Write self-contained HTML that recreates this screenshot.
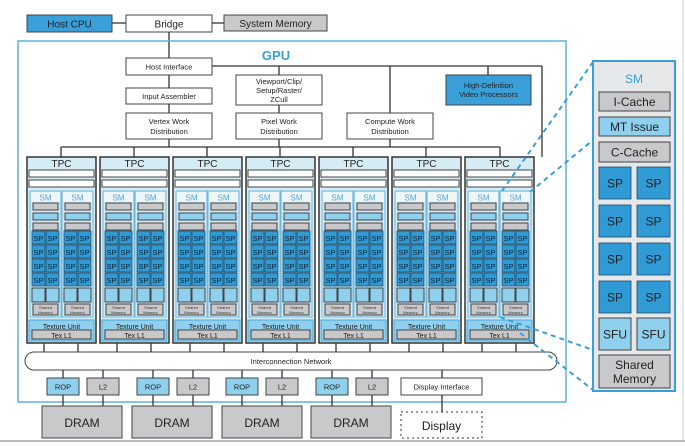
<!DOCTYPE html>
<html><head><meta charset="utf-8"><style>
html,body{margin:0;padding:0;background:#fff;}
svg{display:block;font-family:"Liberation Sans",Arial,sans-serif;}
.b{stroke:#333;stroke-width:1;}
.w{fill:#fff;stroke:#444;stroke-width:1;}
.g{fill:#c9c9cb;stroke:#444;stroke-width:1;}
.lb{fill:#8fd0ee;stroke:#444;stroke-width:1;}
.db{fill:#3a9fd8;stroke:#444;stroke-width:1;}
.sp{fill:#2f9ad4;stroke:#1d4a68;stroke-width:0.8;}
.ln{stroke:#333;stroke-width:1.3;fill:none;}
.t{text-anchor:middle;fill:#222;}
</style></head><body>
<svg width="685" height="446" viewBox="0 0 685 446">
<defs>
<g id="sm">
<rect x="0" y="0" width="31" height="126" fill="#cfe9f5" stroke="#6bbbe0"/>
<rect x="1" y="1" width="29" height="10" fill="#eef6fa"/>
<text x="15.5" y="9.5" font-size="8" fill="#4aa6d6" text-anchor="middle">SM</text>
<rect x="3" y="12" width="25" height="7" class="g"/>
<rect x="3" y="22" width="25" height="7" class="lb"/>
<rect x="3" y="32" width="25" height="7" class="g"/>
<rect x="2" y="40" width="13" height="13" class="sp"/><rect x="16" y="40" width="13" height="13" class="sp"/>
<rect x="2" y="54" width="13" height="13" class="sp"/><rect x="16" y="54" width="13" height="13" class="sp"/>
<rect x="2" y="68" width="13" height="13" class="sp"/><rect x="16" y="68" width="13" height="13" class="sp"/>
<rect x="2" y="82" width="13" height="13" class="sp"/><rect x="16" y="82" width="13" height="13" class="sp"/>
<rect x="2" y="97" width="13" height="14" class="lb"/><rect x="16" y="97" width="13" height="14" class="lb"/>
<rect x="3" y="113" width="25" height="11" class="g"/>
</g>
</defs>

<!-- frame -->
<line x1="683" y1="0" x2="683" y2="441" stroke="#ccc"/>
<line x1="0" y1="441" x2="685" y2="441" stroke="#bbb" stroke-width="2"/>

<!-- top -->
<line x1="112" y1="23" x2="126" y2="23" class="ln"/>
<line x1="212" y1="23" x2="224" y2="23" class="ln"/>
<rect x="27" y="15" width="85" height="17" class="db"/>
<text x="69.5" y="27.5" font-size="10" class="t">Host CPU</text>
<rect x="126" y="15" width="86" height="17" class="w"/>
<text x="169" y="27.5" font-size="10" class="t">Bridge</text>
<rect x="224" y="15" width="103" height="16" class="g"/>
<text x="275.5" y="27" font-size="10" class="t">System Memory</text>
<line x1="169" y1="32" x2="169" y2="58" class="ln"/>

<!-- GPU -->
<rect x="18" y="41" width="548" height="361" fill="none" stroke="#5fb3dc" stroke-width="1.5"/>
<text x="276" y="60" font-size="13" font-weight="bold" fill="#3a9fd8" text-anchor="middle">GPU</text>

<line x1="212" y1="66" x2="542" y2="66" class="ln"/>
<line x1="542" y1="66" x2="542" y2="157" class="ln"/>
<line x1="279" y1="66" x2="279" y2="75" class="ln"/>
<line x1="390" y1="66" x2="390" y2="113" class="ln"/>
<line x1="488" y1="66" x2="488" y2="75" class="ln"/>
<line x1="169" y1="75" x2="169" y2="88" class="ln"/>
<line x1="169" y1="104" x2="169" y2="113" class="ln"/>
<line x1="279" y1="105" x2="279" y2="113" class="ln"/>
<line x1="169" y1="139" x2="169" y2="147" class="ln"/>
<line x1="279" y1="139" x2="279" y2="147" class="ln"/>
<line x1="390" y1="139" x2="390" y2="147" class="ln"/>
<line x1="61" y1="147" x2="500" y2="147" class="ln"/>
<line x1="61" y1="147" x2="61" y2="157" class="ln"/>
<line x1="134" y1="147" x2="134" y2="157" class="ln"/>
<line x1="207" y1="147" x2="207" y2="157" class="ln"/>
<line x1="280" y1="147" x2="280" y2="157" class="ln"/>
<line x1="353" y1="147" x2="353" y2="157" class="ln"/>
<line x1="426" y1="147" x2="426" y2="157" class="ln"/>
<line x1="500" y1="147" x2="500" y2="157" class="ln"/>

<rect x="126" y="58" width="86" height="17" class="w"/>
<text x="169" y="69.5" font-size="7.5" class="t">Host Interface</text>
<rect x="126" y="88" width="86" height="16" class="w"/>
<text x="169" y="99" font-size="7.5" class="t">Input Assembler</text>
<rect x="126" y="113" width="86" height="26" class="w"/>
<text x="169" y="124" font-size="7.5" class="t">Vertex Work</text>
<text x="169" y="134" font-size="7.5" class="t">Distribution</text>
<rect x="236" y="75" width="86" height="30" class="w"/>
<text x="279" y="84" font-size="7.5" class="t">Viewport/Clip/</text>
<text x="279" y="93" font-size="7.5" class="t">Setup/Raster/</text>
<text x="279" y="102" font-size="7.5" class="t">ZCull</text>
<rect x="236" y="113" width="86" height="26" class="w"/>
<text x="279" y="124" font-size="7.5" class="t">Pixel Work</text>
<text x="279" y="134" font-size="7.5" class="t">Distribution</text>
<rect x="347" y="113" width="86" height="26" class="w"/>
<text x="390" y="124" font-size="7.5" class="t">Compute Work</text>
<text x="390" y="134" font-size="7.5" class="t">Distribution</text>
<rect x="446" y="75" width="85" height="30" class="db"/>
<text x="488.5" y="88" font-size="7.5" class="t">High-Definition</text>
<text x="488.5" y="97" font-size="7.5" class="t">Video Processors</text>

<!-- TPCs -->
<g id="tpcs">
<g transform="translate(27,157)">
<rect x="0" y="0" width="69" height="186" fill="#d6ecf5" stroke="#333" stroke-width="1.5"/>
<text x="34.5" y="10" font-size="10" class="t">TPC</text>
<rect x="2" y="13" width="65" height="7" class="w"/><rect x="2" y="23" width="65" height="7" class="w"/>
<use href="#sm" x="3" y="34"/><use href="#sm" x="35" y="34"/>
<rect x="2" y="163" width="65" height="21" fill="#8fd0ee" stroke="#4aa6d6"/>
<rect x="5" y="173" width="59" height="9" class="g"/>
<line x1="17" y1="186" x2="17" y2="195" class="ln"/><line x1="51" y1="186" x2="51" y2="195" class="ln"/>
</g>
</g>
<g transform="translate(73,0)"><g transform="translate(27,157)">
<rect x="0" y="0" width="69" height="186" fill="#d6ecf5" stroke="#333" stroke-width="1.5"/>
<text x="34.5" y="10" font-size="10" class="t">TPC</text>
<rect x="2" y="13" width="65" height="7" class="w"/><rect x="2" y="23" width="65" height="7" class="w"/>
<use href="#sm" x="3" y="34"/><use href="#sm" x="35" y="34"/>
<rect x="2" y="163" width="65" height="21" fill="#8fd0ee" stroke="#4aa6d6"/>
<rect x="5" y="173" width="59" height="9" class="g"/>
<line x1="17" y1="186" x2="17" y2="195" class="ln"/><line x1="51" y1="186" x2="51" y2="195" class="ln"/>
</g></g>
<g transform="translate(146,0)"><g transform="translate(27,157)">
<rect x="0" y="0" width="69" height="186" fill="#d6ecf5" stroke="#333" stroke-width="1.5"/>
<text x="34.5" y="10" font-size="10" class="t">TPC</text>
<rect x="2" y="13" width="65" height="7" class="w"/><rect x="2" y="23" width="65" height="7" class="w"/>
<use href="#sm" x="3" y="34"/><use href="#sm" x="35" y="34"/>
<rect x="2" y="163" width="65" height="21" fill="#8fd0ee" stroke="#4aa6d6"/>
<rect x="5" y="173" width="59" height="9" class="g"/>
<line x1="17" y1="186" x2="17" y2="195" class="ln"/><line x1="51" y1="186" x2="51" y2="195" class="ln"/>
</g></g>
<g transform="translate(219,0)"><g transform="translate(27,157)">
<rect x="0" y="0" width="69" height="186" fill="#d6ecf5" stroke="#333" stroke-width="1.5"/>
<text x="34.5" y="10" font-size="10" class="t">TPC</text>
<rect x="2" y="13" width="65" height="7" class="w"/><rect x="2" y="23" width="65" height="7" class="w"/>
<use href="#sm" x="3" y="34"/><use href="#sm" x="35" y="34"/>
<rect x="2" y="163" width="65" height="21" fill="#8fd0ee" stroke="#4aa6d6"/>
<rect x="5" y="173" width="59" height="9" class="g"/>
<line x1="17" y1="186" x2="17" y2="195" class="ln"/><line x1="51" y1="186" x2="51" y2="195" class="ln"/>
</g></g>
<g transform="translate(292,0)"><g transform="translate(27,157)">
<rect x="0" y="0" width="69" height="186" fill="#d6ecf5" stroke="#333" stroke-width="1.5"/>
<text x="34.5" y="10" font-size="10" class="t">TPC</text>
<rect x="2" y="13" width="65" height="7" class="w"/><rect x="2" y="23" width="65" height="7" class="w"/>
<use href="#sm" x="3" y="34"/><use href="#sm" x="35" y="34"/>
<rect x="2" y="163" width="65" height="21" fill="#8fd0ee" stroke="#4aa6d6"/>
<rect x="5" y="173" width="59" height="9" class="g"/>
<line x1="17" y1="186" x2="17" y2="195" class="ln"/><line x1="51" y1="186" x2="51" y2="195" class="ln"/>
</g></g>
<g transform="translate(365,0)"><g transform="translate(27,157)">
<rect x="0" y="0" width="69" height="186" fill="#d6ecf5" stroke="#333" stroke-width="1.5"/>
<text x="34.5" y="10" font-size="10" class="t">TPC</text>
<rect x="2" y="13" width="65" height="7" class="w"/><rect x="2" y="23" width="65" height="7" class="w"/>
<use href="#sm" x="3" y="34"/><use href="#sm" x="35" y="34"/>
<rect x="2" y="163" width="65" height="21" fill="#8fd0ee" stroke="#4aa6d6"/>
<rect x="5" y="173" width="59" height="9" class="g"/>
<line x1="17" y1="186" x2="17" y2="195" class="ln"/><line x1="51" y1="186" x2="51" y2="195" class="ln"/>
</g></g>
<g transform="translate(438,0)"><g transform="translate(27,157)">
<rect x="0" y="0" width="69" height="186" fill="#d6ecf5" stroke="#333" stroke-width="1.5"/>
<text x="34.5" y="10" font-size="10" class="t">TPC</text>
<rect x="2" y="13" width="65" height="7" class="w"/><rect x="2" y="23" width="65" height="7" class="w"/>
<use href="#sm" x="3" y="34"/><use href="#sm" x="35" y="34"/>
<rect x="2" y="163" width="65" height="21" fill="#8fd0ee" stroke="#4aa6d6"/>
<rect x="5" y="173" width="59" height="9" class="g"/>
<line x1="17" y1="186" x2="17" y2="195" class="ln"/><line x1="51" y1="186" x2="51" y2="195" class="ln"/>
</g></g>

<!-- TPC texts (SP, shared memory, texture unit) -->
<g font-size="7" class="t" text-anchor="middle" fill="#1a2a3a">
<text x="61.5" y="329">Texture Unit</text><text x="61.5" y="338">Tex L1</text>
<text x="134.5" y="329">Texture Unit</text><text x="134.5" y="338">Tex L1</text>
<text x="207.5" y="329">Texture Unit</text><text x="207.5" y="338">Tex L1</text>
<text x="280.5" y="329">Texture Unit</text><text x="280.5" y="338">Tex L1</text>
<text x="353.5" y="329">Texture Unit</text><text x="353.5" y="338">Tex L1</text>
<text x="426.5" y="329">Texture Unit</text><text x="426.5" y="338">Tex L1</text>
<text x="499.5" y="329">Texture Unit</text><text x="499.5" y="338">Tex L1</text>
</g>
<g font-size="7.5" text-anchor="middle" fill="#0d2233">
<!-- TPC1 -->
<text x="38.5" y="241">SP</text><text x="52.5" y="241">SP</text><text x="70.5" y="241">SP</text><text x="84.5" y="241">SP</text>
<text x="38.5" y="255">SP</text><text x="52.5" y="255">SP</text><text x="70.5" y="255">SP</text><text x="84.5" y="255">SP</text>
<text x="38.5" y="269">SP</text><text x="52.5" y="269">SP</text><text x="70.5" y="269">SP</text><text x="84.5" y="269">SP</text>
<text x="38.5" y="283">SP</text><text x="52.5" y="283">SP</text><text x="70.5" y="283">SP</text><text x="84.5" y="283">SP</text>
<!-- TPC2 -->
<text x="111.5" y="241">SP</text><text x="125.5" y="241">SP</text><text x="143.5" y="241">SP</text><text x="157.5" y="241">SP</text>
<text x="111.5" y="255">SP</text><text x="125.5" y="255">SP</text><text x="143.5" y="255">SP</text><text x="157.5" y="255">SP</text>
<text x="111.5" y="269">SP</text><text x="125.5" y="269">SP</text><text x="143.5" y="269">SP</text><text x="157.5" y="269">SP</text>
<text x="111.5" y="283">SP</text><text x="125.5" y="283">SP</text><text x="143.5" y="283">SP</text><text x="157.5" y="283">SP</text>
<!-- TPC3 -->
<text x="184.5" y="241">SP</text><text x="198.5" y="241">SP</text><text x="216.5" y="241">SP</text><text x="230.5" y="241">SP</text>
<text x="184.5" y="255">SP</text><text x="198.5" y="255">SP</text><text x="216.5" y="255">SP</text><text x="230.5" y="255">SP</text>
<text x="184.5" y="269">SP</text><text x="198.5" y="269">SP</text><text x="216.5" y="269">SP</text><text x="230.5" y="269">SP</text>
<text x="184.5" y="283">SP</text><text x="198.5" y="283">SP</text><text x="216.5" y="283">SP</text><text x="230.5" y="283">SP</text>
<!-- TPC4 -->
<text x="257.5" y="241">SP</text><text x="271.5" y="241">SP</text><text x="289.5" y="241">SP</text><text x="303.5" y="241">SP</text>
<text x="257.5" y="255">SP</text><text x="271.5" y="255">SP</text><text x="289.5" y="255">SP</text><text x="303.5" y="255">SP</text>
<text x="257.5" y="269">SP</text><text x="271.5" y="269">SP</text><text x="289.5" y="269">SP</text><text x="303.5" y="269">SP</text>
<text x="257.5" y="283">SP</text><text x="271.5" y="283">SP</text><text x="289.5" y="283">SP</text><text x="303.5" y="283">SP</text>
<!-- TPC5 -->
<text x="330.5" y="241">SP</text><text x="344.5" y="241">SP</text><text x="362.5" y="241">SP</text><text x="376.5" y="241">SP</text>
<text x="330.5" y="255">SP</text><text x="344.5" y="255">SP</text><text x="362.5" y="255">SP</text><text x="376.5" y="255">SP</text>
<text x="330.5" y="269">SP</text><text x="344.5" y="269">SP</text><text x="362.5" y="269">SP</text><text x="376.5" y="269">SP</text>
<text x="330.5" y="283">SP</text><text x="344.5" y="283">SP</text><text x="362.5" y="283">SP</text><text x="376.5" y="283">SP</text>
<!-- TPC6 -->
<text x="403.5" y="241">SP</text><text x="417.5" y="241">SP</text><text x="435.5" y="241">SP</text><text x="449.5" y="241">SP</text>
<text x="403.5" y="255">SP</text><text x="417.5" y="255">SP</text><text x="435.5" y="255">SP</text><text x="449.5" y="255">SP</text>
<text x="403.5" y="269">SP</text><text x="417.5" y="269">SP</text><text x="435.5" y="269">SP</text><text x="449.5" y="269">SP</text>
<text x="403.5" y="283">SP</text><text x="417.5" y="283">SP</text><text x="435.5" y="283">SP</text><text x="449.5" y="283">SP</text>
<!-- TPC7 -->
<text x="476.5" y="241">SP</text><text x="490.5" y="241">SP</text><text x="508.5" y="241">SP</text><text x="522.5" y="241">SP</text>
<text x="476.5" y="255">SP</text><text x="490.5" y="255">SP</text><text x="508.5" y="255">SP</text><text x="522.5" y="255">SP</text>
<text x="476.5" y="269">SP</text><text x="490.5" y="269">SP</text><text x="508.5" y="269">SP</text><text x="522.5" y="269">SP</text>
<text x="476.5" y="283">SP</text><text x="490.5" y="283">SP</text><text x="508.5" y="283">SP</text><text x="522.5" y="283">SP</text>
</g>
<g font-size="4" text-anchor="middle" fill="#333">
<text x="45.5" y="309">Shared</text><text x="45.5" y="314">Memory</text><text x="77.5" y="309">Shared</text><text x="77.5" y="314">Memory</text>
<text x="118.5" y="309">Shared</text><text x="118.5" y="314">Memory</text><text x="150.5" y="309">Shared</text><text x="150.5" y="314">Memory</text>
<text x="191.5" y="309">Shared</text><text x="191.5" y="314">Memory</text><text x="223.5" y="309">Shared</text><text x="223.5" y="314">Memory</text>
<text x="264.5" y="309">Shared</text><text x="264.5" y="314">Memory</text><text x="296.5" y="309">Shared</text><text x="296.5" y="314">Memory</text>
<text x="337.5" y="309">Shared</text><text x="337.5" y="314">Memory</text><text x="369.5" y="309">Shared</text><text x="369.5" y="314">Memory</text>
<text x="410.5" y="309">Shared</text><text x="410.5" y="314">Memory</text><text x="442.5" y="309">Shared</text><text x="442.5" y="314">Memory</text>
<text x="483.5" y="309">Shared</text><text x="483.5" y="314">Memory</text><text x="515.5" y="309">Shared</text><text x="515.5" y="314">Memory</text>
</g>

<!-- interconnect -->
<rect x="25" y="352" width="532" height="18" rx="9" fill="#fff" stroke="#444"/>
<text x="291" y="364" font-size="7.5" class="t">Interconnection Network</text>

<!-- ROP / L2 -->
<g>
<line x1="63" y1="370" x2="63" y2="406" class="ln"/><line x1="103" y1="370" x2="103" y2="406" class="ln"/>
<line x1="153" y1="370" x2="153" y2="406" class="ln"/><line x1="193" y1="370" x2="193" y2="406" class="ln"/>
<line x1="242" y1="370" x2="242" y2="406" class="ln"/><line x1="282" y1="370" x2="282" y2="406" class="ln"/>
<line x1="332" y1="370" x2="332" y2="406" class="ln"/><line x1="372" y1="370" x2="372" y2="406" class="ln"/>
<line x1="442" y1="370" x2="442" y2="412" class="ln"/>
</g>
<rect x="47" y="378" width="32" height="17" class="lb"/><text x="63" y="389.5" font-size="7.5" class="t">ROP</text>
<rect x="87" y="378" width="32" height="17" class="g"/><text x="103" y="389.5" font-size="7.5" class="t">L2</text>
<rect x="137" y="378" width="32" height="17" class="lb"/><text x="153" y="389.5" font-size="7.5" class="t">ROP</text>
<rect x="177" y="378" width="32" height="17" class="g"/><text x="193" y="389.5" font-size="7.5" class="t">L2</text>
<rect x="226" y="378" width="32" height="17" class="lb"/><text x="242" y="389.5" font-size="7.5" class="t">ROP</text>
<rect x="266" y="378" width="32" height="17" class="g"/><text x="282" y="389.5" font-size="7.5" class="t">L2</text>
<rect x="316" y="378" width="32" height="17" class="lb"/><text x="332" y="389.5" font-size="7.5" class="t">ROP</text>
<rect x="356" y="378" width="32" height="17" class="g"/><text x="372" y="389.5" font-size="7.5" class="t">L2</text>
<rect x="401" y="378" width="81" height="17" class="w"/><text x="441.5" y="389.5" font-size="7.5" class="t">Display Interface</text>

<rect x="42" y="406" width="80" height="32" class="g"/><text x="82" y="427" font-size="12" class="t">DRAM</text>
<rect x="132" y="406" width="80" height="32" class="g"/><text x="172" y="427" font-size="12" class="t">DRAM</text>
<rect x="222" y="406" width="80" height="32" class="g"/><text x="262" y="427" font-size="12" class="t">DRAM</text>
<rect x="311" y="406" width="80" height="32" class="g"/><text x="351" y="427" font-size="12" class="t">DRAM</text>
<rect x="401" y="412" width="81" height="26" fill="#fff" stroke="#333" stroke-dasharray="2,3"/><text x="441.5" y="430" font-size="12" class="t">Display</text>

<!-- dashed zoom lines -->
<g stroke="#3a9fd8" stroke-width="2" stroke-dasharray="5,4" fill="none">
<line x1="502" y1="191" x2="593" y2="62"/>
<line x1="530" y1="192" x2="593" y2="140"/>
<line x1="500" y1="317" x2="593" y2="350"/>
<line x1="520" y1="333" x2="593" y2="390"/>
</g>

<!-- SM detail -->
<rect x="593" y="61" width="82" height="330" fill="#e6e7e9" stroke="#3a9fd8" stroke-width="2"/>
<text x="634" y="83" font-size="12" fill="#3a9fd8" text-anchor="middle">SM</text>
<rect x="599" y="92" width="71" height="19" class="g"/><text x="634.5" y="106" font-size="12" class="t">I-Cache</text>
<rect x="599" y="117" width="71" height="19" class="lb"/><text x="634.5" y="131" font-size="12" class="t">MT Issue</text>
<rect x="599" y="142" width="71" height="20" class="g"/><text x="634.5" y="156.5" font-size="12" class="t">C-Cache</text>
<rect x="599" y="167" width="32" height="32" class="sp"/><rect x="637" y="167" width="33" height="32" class="sp"/>
<rect x="599" y="205" width="32" height="32" class="sp"/><rect x="637" y="205" width="33" height="32" class="sp"/>
<rect x="599" y="243" width="32" height="32" class="sp"/><rect x="637" y="243" width="33" height="32" class="sp"/>
<rect x="599" y="281" width="32" height="32" class="sp"/><rect x="637" y="281" width="33" height="32" class="sp"/>
<rect x="599" y="318" width="32" height="32" class="lb"/><rect x="637" y="318" width="33" height="32" class="lb"/>
<rect x="599" y="355" width="71" height="33" class="g"/>
<g font-size="12" class="t">
<text x="615" y="187.5">SP</text><text x="653.5" y="187.5">SP</text>
<text x="615" y="225.5">SP</text><text x="653.5" y="225.5">SP</text>
<text x="615" y="263.5">SP</text><text x="653.5" y="263.5">SP</text>
<text x="615" y="301.5">SP</text><text x="653.5" y="301.5">SP</text>
<text x="615" y="338.5">SFU</text><text x="653.5" y="338.5">SFU</text>
<text x="634.5" y="369">Shared</text><text x="634.5" y="383">Memory</text>
</g>
</svg>
</body></html>
